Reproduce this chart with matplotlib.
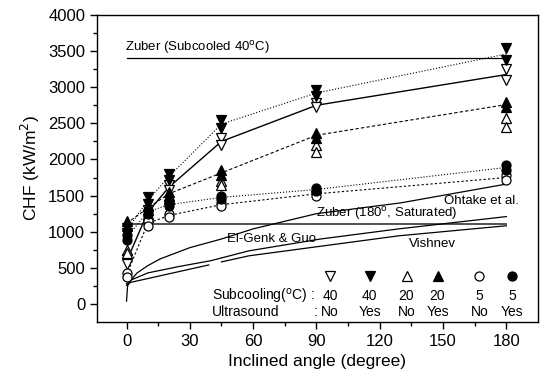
import matplotlib
matplotlib.use("Agg")
import matplotlib.pyplot as plt
import numpy as np

plt.rcParams['font.family'] = ['Liberation Sans', 'DejaVu Sans']

angles = [0, 10, 20, 45, 90, 180]

# two repeated runs per condition (CHF, kW/m2)
s40_no_a = [620, 1300, 1650, 2300, 2780, 3250]
s40_no_b = [560, 1230, 1580, 2200, 2720, 3100]
s40_yes_a = [1050, 1480, 1800, 2540, 2960, 3540]
s40_yes_b = [980, 1380, 1720, 2440, 2880, 3380]
s20_no_a = [750, 1250, 1500, 1700, 2200, 2570]
s20_no_b = [700, 1200, 1450, 1650, 2100, 2450]
s20_yes_a = [1150, 1350, 1550, 1850, 2370, 2800]
s20_yes_b = [1080, 1300, 1500, 1780, 2300, 2720]
s5_no_a = [430, 1150, 1250, 1400, 1550, 1780]
s5_no_b = [370, 1080, 1200, 1350, 1500, 1720]
s5_yes_a = [950, 1300, 1400, 1500, 1600, 1920]
s5_yes_b = [880, 1250, 1350, 1450, 1570, 1860]

# correlations
ohtake_ang = [0, 0.5, 2, 5, 10, 16, 30, 45, 60, 90, 130, 180]
ohtake_chf = [40, 250, 330, 430, 530, 625, 780, 900, 1040, 1250, 1400, 1660]
elgenk_ang = [0, 2, 10, 25, 40, 58, 92, 129, 180]
elgenk_chf = [280, 330, 430, 520, 600, 736, 900, 1040, 1210]
vish1_ang = [0, 2, 39]
vish1_chf = [260, 300, 541]
vish2_ang = [45, 58, 129, 180]
vish2_chf = [583, 667, 944, 1083]
zuber_sat = 1110
zuber_sub = 3400

legend_sub = ["40", "40", "20", "20", "5", "5"]
legend_us = ["No", "Yes", "No", "Yes", "No", "Yes"]

fig = plt.figure(figsize=(5.43, 3.83), dpi=100)
ax = fig.add_axes([0.1786, 0.159, 0.8122, 0.802])

# correlation lines
ax.plot([0, 180], [zuber_sub, zuber_sub], color='black', lw=0.9)
ax.plot([0, 180], [zuber_sat, zuber_sat], color='#444444', lw=1.3)
ax.plot(ohtake_ang, ohtake_chf, color='black', lw=0.9)
ax.plot(elgenk_ang, elgenk_chf, color='black', lw=0.9)
ax.plot(vish1_ang, vish1_chf, color='black', lw=0.9)
ax.plot(vish2_ang, vish2_chf, color='black', lw=0.9)

series = [
    (s40_no_a, s40_no_b, 'v', 'white', '-'),
    (s40_yes_a, s40_yes_b, 'v', 'black', ':'),
    (s20_no_a, s20_no_b, '^', 'white', None),
    (s20_yes_a, s20_yes_b, '^', 'black', (0, (3, 2))),
    (s5_no_a, s5_no_b, 'o', 'white', (0, (2, 2))),
    (s5_yes_a, s5_yes_b, 'o', 'black', ':'),
]
for a, b, mk, fc, ls in series:
    if ls is not None:
        mean = (np.array(a) + np.array(b)) / 2
        ax.plot(angles, mean, color='black', lw=0.8 if ls != '-' else 1.0,
                linestyle=ls, zorder=2)
    for run in (a, b):
        ax.plot(angles, run, linestyle='none', marker=mk, ms=6.5,
                mfc=fc, mec='black', mew=0.9, zorder=3)

# annotations
fs = 9.5
ax.text(-0.5, 3556, "Zuber (Subcooled 40$^{\\rm o}$C)", fontsize=fs, va='center')
ax.text(186, 1430, "Ohtake et al.", fontsize=fs, va='center', ha='right')
ax.text(90, 1250, "Zuber (180$^{\\rm o}$, Saturated)", fontsize=fs, va='center')
ax.text(47.7, 900, "El-Genk & Guo", fontsize=fs, va='center')
ax.text(134, 833, "Vishnev", fontsize=fs, va='center')

# legend as text table
leg_x = [96.4, 115.3, 132.7, 147.4, 167.2, 182.8]
leg_mk = ['v', 'v', '^', '^', 'o', 'o']
leg_fc = ['white', 'black', 'white', 'black', 'white', 'black']
for x, mk, fc, s, u in zip(leg_x, leg_mk, leg_fc, legend_sub, legend_us):
    ax.plot([x], [389], marker=mk, ms=6.5, mfc=fc, mec='black', mew=0.9,
            linestyle='none')
    ax.text(x, 111, s, fontsize=fs + 0.5, ha='center', va='center')
    ax.text(x, -111, u, fontsize=fs + 0.5, ha='center', va='center')
ax.text(40.6, 111, "Subcooling($^{\\rm o}$C) :", fontsize=fs + 0.5, va='center')
ax.text(40.6, -111, "Ultrasound", fontsize=fs + 0.5, va='center')
ax.text(88.5, -111, ":", fontsize=fs + 0.5, va='center')

ax.set_xlim(-14, 195)
ax.set_ylim(-250, 4000)
ax.set_xticks([0, 30, 60, 90, 120, 150, 180])
ax.set_xticks(np.arange(15, 181, 30), minor=True)
ax.set_yticks(np.arange(0, 4001, 500))
ax.set_yticks(np.arange(250, 4000, 500), minor=True)
ax.tick_params(axis='both', which='major', direction='out', length=5,
               width=1, labelsize=12)
ax.tick_params(axis='both', which='minor', direction='out', length=3, width=1)
for sp in ax.spines.values():
    sp.set_linewidth(1.0)

ax.set_xlabel("Inclined angle (degree)", fontsize=12.5)
ax.set_ylabel("CHF (kW/m$^2$)", fontsize=12.5)

fig.savefig("out.png", dpi=100)
